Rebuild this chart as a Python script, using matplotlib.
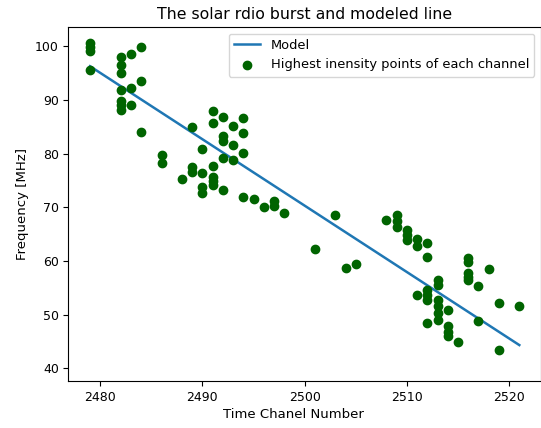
import numpy as np
import matplotlib
matplotlib.use("Agg")
import matplotlib.pyplot as plt

# time channel of each peak and the frequency of highest intensity
channel = [2479, 2479, 2479, 2479,
           2482, 2482, 2482, 2482, 2482, 2482, 2482,
           2483, 2483, 2483,
           2484, 2484, 2484,
           2486, 2486,
           2488,
           2489, 2489, 2489,
           2490, 2490, 2490, 2490,
           2491, 2491, 2491, 2491, 2491, 2491,
           2492, 2492, 2492, 2492, 2492,
           2493, 2493, 2493,
           2494, 2494, 2494, 2494,
           2495, 2496, 2497, 2497, 2498,
           2501, 2503, 2504, 2505, 2508,
           2509, 2509, 2509,
           2510, 2510, 2510,
           2511, 2511, 2511,
           2512, 2512, 2512, 2512, 2512, 2512,
           2513, 2513, 2513, 2513, 2513, 2513,
           2514, 2514, 2514, 2514,
           2515,
           2516, 2516, 2516, 2516, 2516,
           2517, 2517,
           2518,
           2519, 2519,
           2521]
peak_freq = [100.6, 99.9, 99.1, 95.5,
             98.1, 96.6, 95.1, 91.8, 89.9, 89.0, 88.2,
             98.6, 92.2, 89.1,
             99.8, 93.6, 84.1,
             79.7, 78.2,
             75.2,
             84.9, 77.5, 76.6,
             80.8, 76.4, 73.8, 72.6,
             88.0, 85.8, 77.7, 75.7, 74.9, 74.1,
             86.9, 83.2, 82.4, 79.2, 73.3,
             85.1, 81.6, 78.9,
             86.7, 83.9, 80.1, 71.9,
             71.6, 70.0, 71.1, 70.2, 69.0,
             62.3, 68.6, 58.7, 59.5, 67.6,
             68.6, 67.5, 66.4,
             65.7, 64.8, 63.9,
             64.0, 62.8, 53.6,
             63.4, 60.8, 54.6, 53.6, 52.7, 48.4,
             56.5, 55.5, 52.7, 51.5, 50.2, 49.0,
             50.8, 47.9, 46.8, 46.0,
             44.9,
             60.5, 59.8, 57.8, 57.0, 56.4,
             55.3, 48.8,
             58.4,
             52.1, 43.3,
             51.6]

# fitted model line end points
model_x = [2479, 2521]
model_y = [96.3, 44.3]

fig = plt.figure(figsize=(5.41, 4.28), dpi=100)
ax = fig.add_axes([0.1266, 0.1098, 0.873, 0.827])

ax.plot(model_x, model_y, color="C0", lw=1.8, label="Model")
ax.scatter(channel, peak_freq, s=36, color="darkgreen",
           label="Highest inensity points of each channel", zorder=3)

ax.set_xlim(2476.9, 2523.1)
ax.set_ylim(37.6, 103.6)
ax.set_xticks([2480, 2490, 2500, 2510, 2520])
ax.tick_params(labelsize=9)

ax.set_title("The solar rdio burst and modeled line", fontsize=11.3)
ax.set_xlabel("Time Chanel Number", fontsize=9.5)
ax.xaxis.set_label_coords(0.476, -0.075)
ax.set_ylabel("Frequency [MHz]", fontsize=9.5)
ax.legend(loc="upper right", fontsize=9.4)

fig.savefig("out.png", dpi=100)
